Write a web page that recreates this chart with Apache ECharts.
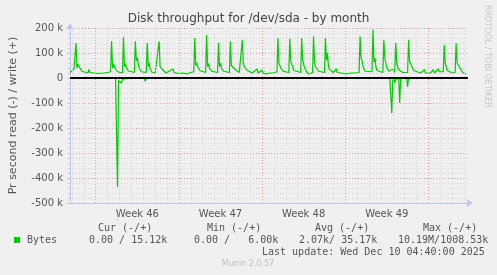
<!DOCTYPE html>
<html>
<head>
<meta charset="utf-8">
<script src="https://cdn.jsdelivr.net/npm/echarts@6/dist/echarts.min.js"></script>
<style>
html,body{margin:0;padding:0;background:#f0f0f0;}
#c{width:497px;height:275px;}
</style>
</head>
<body>
<div id="c"></div>
<script>
// ---- data (time = hours since graph start 2025-11-06 20:00, values in k bytes/s) ----
const graphStart = '2025-11-06T20:00';
const graphEnd = '2025-12-10T08:00';
const title = 'Disk throughput for /dev/sda - by month';
const yName = 'Pr second read (-) / write (+)';
const yTicks = [-500, -400, -300, -200, -100, 0, 100, 200];
const weekStarts = ['2025-11-09T00:00', '2025-11-16T00:00', '2025-11-23T00:00', '2025-11-30T00:00', '2025-12-07T00:00'];
const weekLabels = ['Week 46', 'Week 47', 'Week 48', 'Week 49'];

const writeData = [
[0,22],[4,30],[8,35],[10,28],[12,140],[14,40],[16,55],[18,60],[20,40],[24,27],[28,20],[36,20],[38,33],[40,22],[48,20],
[52,24],[56,18],[68,20],[76,22],[80,20],[82,25],[84,147],[86,40],[88,55],[90,50],[92,35],[96,25],[100,20],[106,20],
[108,163],[110,45],[112,57],[114,40],[118,28],[122,20],[130,22],[132,147],[134,70],[136,80],[138,55],[140,40],[144,25],
[148,20],[154,22],[156,140],[158,45],[160,60],[162,35],[166,22],[172,20],[180,147],[182,45],[184,48],[186,35],[190,27],
[194,20],[208,36],[210,22],[218,18],[228,20],[236,16],[240,20],[244,22],[250,25],[252,160],[254,50],[256,60],[258,45],
[262,30],[266,22],[274,22],[276,172],[278,45],[280,57],[282,40],[286,27],[290,20],[298,22],[300,140],[302,45],[304,60],
[306,40],[310,27],[314,20],[322,22],[324,147],[326,50],[328,55],[330,45],[334,33],[338,27],[342,22],[346,22],[348,153],
[350,60],[352,45],[354,45],[358,30],[362,22],[368,20],[378,36],[380,20],[388,32],[390,20],[396,16],[404,20],[412,20],
[418,25],[420,160],[422,60],[424,53],[426,40],[430,27],[434,20],[442,22],[444,158],[446,66],[448,55],[450,45],[452,30],
[456,22],[466,22],[468,160],[470,73],[472,55],[474,40],[478,25],[482,16],[486,20],[490,22],[492,167],[494,60],[496,45],
[498,40],[502,27],[506,22],[514,22],[516,160],[518,70],[520,99],[522,50],[524,35],[528,27],[532,22],[538,36],[540,22],
[548,20],[558,16],[568,20],[576,20],[584,22],[586,167],[588,80],[590,70],[592,45],[596,27],[600,22],[610,25],[612,193],
[614,64],[616,80],[618,45],[620,30],[624,22],[632,22],[634,153],[636,80],[638,60],[640,40],[644,27],[648,22],[652,35],
[656,22],[658,140],[660,60],[662,45],[664,33],[668,30],[672,22],[682,22],[684,153],[686,66],[688,60],[690,50],[694,30],
[698,22],[708,20],[716,33],[718,20],[728,20],[734,33],[736,20],[740,22],[744,36],[746,25],[750,22],[754,25],[756,133],
[758,60],[760,45],[762,30],[766,22],[772,20],[778,22],[780,140],[782,60],[784,66],[786,60],[788,40],[792,25],[796,20],[800,15]
];
const readData = [
[0,0],[92,0],[94,-5],[96,-436],[98,-10],[100,-15],[102,-5],[104,-20],[106,-5],[108,0],[130,0],[132,-4],[134,0],
[150,0],[152,-13],[154,0],[592,0],[594,-7],[596,0],[646,0],[648,-5],[650,-140],[652,-10],[654,0],[656,-20],[658,-5],
[660,0],[664,0],[666,-100],[668,0],[680,0],[682,-36],[684,0],[800,0]
];
const legendHeaders = ['Cur (-/+)', 'Min (-/+)', 'Avg (-/+)', 'Max (-/+)'];
const legendValues = ['0.00 / 15.12k', '0.00 /   6.00k', '2.07k/ 35.17k', '10.19M/1008.53k'];
const seriesName = 'Bytes';
const lastUpdate = 'Last update: Wed Dec 10 04:40:00 2025';
const footer = 'Munin 2.0.57';
const sideText = 'RRDTOOL / TOBI OETIKER';

// ---- helpers ----
function parseT(s){const m=s.match(/(\d+)-(\d+)-(\d+)T(\d+):(\d+)/);return Date.UTC(+m[1],+m[2]-1,+m[3],+m[4],+m[5]);}
const t0 = parseT(graphStart);
const hrs = s => (parseT(s)-t0)/3600000;
const xMax = hrs(graphEnd);
const weekH = weekStarts.map(hrs);
const weekCenters = weekLabels.map((l,i)=>weekH[i]+84);
const dayLines = [];
for (let h = hrs('2025-11-07T00:00'); h <= xMax; h += 24) { if (weekH.indexOf(h) < 0) dayLines.push({xAxis:h}); }
const weekLines = weekH.filter(h=>h<=xMax).map(h=>({xAxis:h}));

const green = '#00cc00';
const txt = '#555';
const mono = '"DejaVu Sans Mono", monospace';
const sans = '"DejaVu Sans", sans-serif';
const axisCol = '#c4c4ea';

const chart = echarts.init(document.getElementById('c'), null, {renderer:'canvas'});
const graphics = [
  {type:'text', left:'center', top:13, style:{text:title, font:'12px '+sans, fill:'#444'}},
  {type:'text', x:487, y:5, rotation:-Math.PI/2, style:{text:sideText, font:'8px '+sans, fill:'#c8c8c8', textAlign:'left', textVerticalAlign:'middle'}},
  {type:'rect', shape:{x:14, y:237, width:6, height:6}, style:{fill:green}},
  {type:'text', x:27, y:240, style:{text:seriesName, font:'10px '+mono, fill:txt, textVerticalAlign:'middle'}},
  {type:'text', x:262, y:252, style:{text:lastUpdate, font:'10px '+mono, fill:txt, textVerticalAlign:'middle'}},
  {type:'text', x:248, y:264, style:{text:footer, font:'8px '+sans, fill:'#c0c0c0', textAlign:'center', textVerticalAlign:'middle'}}
];
const hx = [98, 207, 315, 423];
const vx = [89, 194, 299, 398];
legendHeaders.forEach((h,i)=>graphics.push({type:'text', x:hx[i], y:228, style:{text:h, font:'10px '+mono, fill:txt, textVerticalAlign:'middle'}}));
legendValues.forEach((v,i)=>graphics.push({type:'text', x:vx[i], y:240, style:{text:v, font:'10px '+mono, fill:txt, textVerticalAlign:'middle'}}));

chart.setOption({
  animation:false,
  backgroundColor:'#f0f0f0',
  grid:{left:66, top:28, right:29, bottom:72, containLabel:false},
  xAxis:{
    type:'value', min:0, max:xMax, interval:4,
    axisLine:{show:true, onZero:false, symbol:['none','arrow'], symbolSize:[6,7], symbolOffset:[0,5], lineStyle:{color:axisCol, width:1}},
    axisTick:{show:false},
    splitLine:{show:false},
    axisLabel:{interval:0, margin:6, color:txt, fontFamily:'DejaVu Sans', fontSize:10, showMinLabel:true, showMaxLabel:true,
      formatter:v=>{const i=weekCenters.indexOf(v);return i>=0?weekLabels[i]:'';}}
  },
  yAxis:{
    type:'value', min:yTicks[0], max:yTicks[yTicks.length-1], interval:100,
    name:yName, nameLocation:'middle', nameGap:51, nameRotate:90,
    nameTextStyle:{color:txt, fontFamily:'DejaVu Sans', fontSize:11},
    axisLine:{show:true, symbol:['none','arrow'], symbolSize:[6,7], symbolOffset:[0,5], lineStyle:{color:axisCol}},
    axisTick:{show:true, length:3, lineStyle:{color:axisCol}},
    minorTick:{show:true, splitNumber:5, length:2, lineStyle:{color:axisCol}},
    axisLabel:{color:txt, fontFamily:'DejaVu Sans', fontSize:10, margin:7, formatter:v=>v===0?'0':v+' k'},
    splitLine:{show:true, lineStyle:{color:'#e6a0a0', type:[1,2], width:1}},
    minorSplitLine:{show:true, lineStyle:{color:'#d4d4d4', type:[1,2], width:1}}
  },
  series:[
    {type:'line', z:1, data:[], silent:true,
     markLine:{silent:true, symbol:['none','none'], label:{show:false}, animation:false,
       lineStyle:{color:'#d4d4d4', type:[1,2], width:1}, emphasis:{disabled:true}, data:dayLines}},
    {type:'line', z:1, data:[], silent:true,
     markLine:{silent:true, symbol:['none','none'], label:{show:false}, animation:false,
       lineStyle:{color:'#e6a0a0', type:[1,2], width:1}, emphasis:{disabled:true}, data:weekLines}},
    {name:'read', type:'line', z:3, data:readData, showSymbol:false, lineStyle:{color:green, width:1.2}, itemStyle:{color:green}},
    {name:'write', type:'line', z:3, data:writeData, showSymbol:false, lineStyle:{color:green, width:1.2}, itemStyle:{color:green}},
    {type:'line', z:5, data:[], silent:true,
     markLine:{silent:true, symbol:['none','none'], label:{show:false}, animation:false,
       lineStyle:{color:'#000', type:'solid', width:1.8}, emphasis:{disabled:true}, data:[{yAxis:0}]}}
  ],
  graphic:graphics
});
</script>
</body>
</html>
